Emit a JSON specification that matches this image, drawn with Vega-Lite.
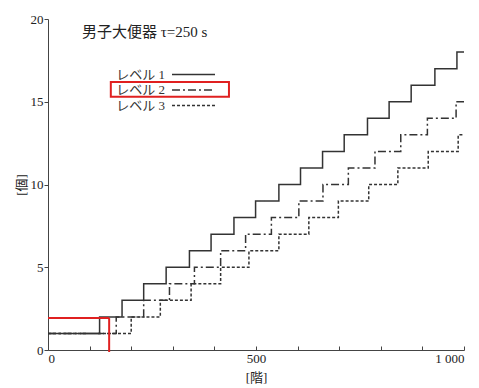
{
  "$schema": "https://vega.github.io/schema/vega-lite/v6.json",
  "width": 416,
  "height": 331,
  "autosize": "none",
  "padding": {"left": 48, "top": 19, "right": 15, "bottom": 38},
  "background": "white",
  "title": {
    "text": "男子大便器 τ=250 s",
    "anchor": "start",
    "frame": "group",
    "dx": 34,
    "dy": 31,
    "font": "Liberation Serif, Noto Sans CJK JP",
    "fontSize": 15,
    "fontWeight": "normal",
    "color": "#222"
  },
  "config": {
    "view": {"stroke": null},
    "font": "Liberation Serif, Noto Sans CJK JP",
    "axis": {
      "grid": false,
      "domainColor": "#444",
      "tickColor": "#444",
      "labelColor": "#222",
      "titleColor": "#222",
      "labelFont": "Liberation Serif, Noto Sans CJK JP",
      "titleFont": "Liberation Serif, Noto Sans CJK JP",
      "labelFontSize": 13,
      "titleFontSize": 13,
      "titleFontWeight": "normal"
    }
  },
  "datasets": {
    "steps": [
      {"level": "レベル 1", "x": 0, "y": 1},
      {"level": "レベル 1", "x": 124, "y": 2},
      {"level": "レベル 1", "x": 178, "y": 3},
      {"level": "レベル 1", "x": 230, "y": 4},
      {"level": "レベル 1", "x": 284, "y": 5},
      {"level": "レベル 1", "x": 340, "y": 6},
      {"level": "レベル 1", "x": 392, "y": 7},
      {"level": "レベル 1", "x": 447, "y": 8},
      {"level": "レベル 1", "x": 499, "y": 9},
      {"level": "レベル 1", "x": 555, "y": 10},
      {"level": "レベル 1", "x": 607, "y": 11},
      {"level": "レベル 1", "x": 660, "y": 12},
      {"level": "レベル 1", "x": 712, "y": 13},
      {"level": "レベル 1", "x": 768, "y": 14},
      {"level": "レベル 1", "x": 820, "y": 15},
      {"level": "レベル 1", "x": 873, "y": 16},
      {"level": "レベル 1", "x": 930, "y": 17},
      {"level": "レベル 1", "x": 983, "y": 18},
      {"level": "レベル 1", "x": 1000, "y": 18},
      {"level": "レベル 2", "x": 0, "y": 1},
      {"level": "レベル 2", "x": 164, "y": 2},
      {"level": "レベル 2", "x": 230, "y": 3},
      {"level": "レベル 2", "x": 292, "y": 4},
      {"level": "レベル 2", "x": 352, "y": 5},
      {"level": "レベル 2", "x": 415, "y": 6},
      {"level": "レベル 2", "x": 475, "y": 7},
      {"level": "レベル 2", "x": 537, "y": 8},
      {"level": "レベル 2", "x": 603, "y": 9},
      {"level": "レベル 2", "x": 661, "y": 10},
      {"level": "レベル 2", "x": 722, "y": 11},
      {"level": "レベル 2", "x": 786, "y": 12},
      {"level": "レベル 2", "x": 848, "y": 13},
      {"level": "レベル 2", "x": 912, "y": 14},
      {"level": "レベル 2", "x": 981, "y": 15},
      {"level": "レベル 2", "x": 1000, "y": 15},
      {"level": "レベル 3", "x": 0, "y": 1},
      {"level": "レベル 3", "x": 200, "y": 2},
      {"level": "レベル 3", "x": 270, "y": 3},
      {"level": "レベル 3", "x": 344, "y": 4},
      {"level": "レベル 3", "x": 415, "y": 5},
      {"level": "レベル 3", "x": 483, "y": 6},
      {"level": "レベル 3", "x": 555, "y": 7},
      {"level": "レベル 3", "x": 627, "y": 8},
      {"level": "レベル 3", "x": 698, "y": 9},
      {"level": "レベル 3", "x": 771, "y": 10},
      {"level": "レベル 3", "x": 841, "y": 11},
      {"level": "レベル 3", "x": 914, "y": 12},
      {"level": "レベル 3", "x": 986, "y": 13},
      {"level": "レベル 3", "x": 1000, "y": 13}
    ]
  },
  "layer": [
    {
      "data": {"name": "steps"},
      "mark": {"type": "line", "interpolate": "step-after", "color": "#333", "strokeWidth": 1.5},
      "encoding": {
        "x": {
          "field": "x", "type": "quantitative",
          "scale": {"domain": [0, 1000], "nice": false},
          "axis": {
            "values": [0, 100, 200, 300, 400, 500, 600, 700, 800, 900, 1000],
            "labelExpr": "datum.value == 0 ? '0' : datum.value == 500 ? '500' : datum.value == 1000 ? '1 000' : ''",
            "tickSize": -4,
            "labelPadding": 6,
            "title": "[階]",
            "titlePadding": 6
          }
        },
        "y": {
          "field": "y", "type": "quantitative",
          "scale": {"domain": [0, 20], "nice": false},
          "axis": {
            "values": [0, 5, 10, 15, 20],
            "tickSize": 4,
            "labelPadding": 1,
            "title": "[個]",
            "titlePadding": 2
          }
        },
        "strokeDash": {
          "field": "level", "type": "nominal",
          "scale": {"domain": ["レベル 1", "レベル 2", "レベル 3"], "range": [[1, 0], [8, 3, 2, 3], [3, 2]]},
          "legend": {
            "title": null,
            "orient": "none",
            "legendX": 139,
            "legendY": 49,
            "padding": 0,
            "symbolType": "M-5,0H5",
            "symbolSize": 74,
            "symbolStrokeColor": "#333",
            "symbolStrokeWidth": 1.6,
            "labelAlign": "right",
            "labelOffset": -35,
            "labelFontSize": 13,
            "labelColor": "#333",
            "rowPadding": 1.5
          }
        }
      }
    },
    {
      "data": {"values": [{}]},
      "mark": {"type": "rect", "fill": null, "stroke": "#e02020", "strokeWidth": 2},
      "encoding": {
        "x": {"datum": 151},
        "x2": {"datum": 435},
        "y": {"datum": 16.2},
        "y2": {"datum": 15.3}
      }
    },
    {
      "data": {"values": [{}]},
      "mark": {"type": "rule", "stroke": "#e02020", "strokeWidth": 2},
      "encoding": {
        "x": {"datum": 0},
        "x2": {"datum": 147},
        "y": {"datum": 1.93}
      }
    },
    {
      "data": {"values": [{}]},
      "mark": {"type": "rule", "stroke": "#e02020", "strokeWidth": 2},
      "encoding": {
        "x": {"datum": 147},
        "y": {"datum": 1.93},
        "y2": {"datum": -0.12}
      }
    }
  ]
}
